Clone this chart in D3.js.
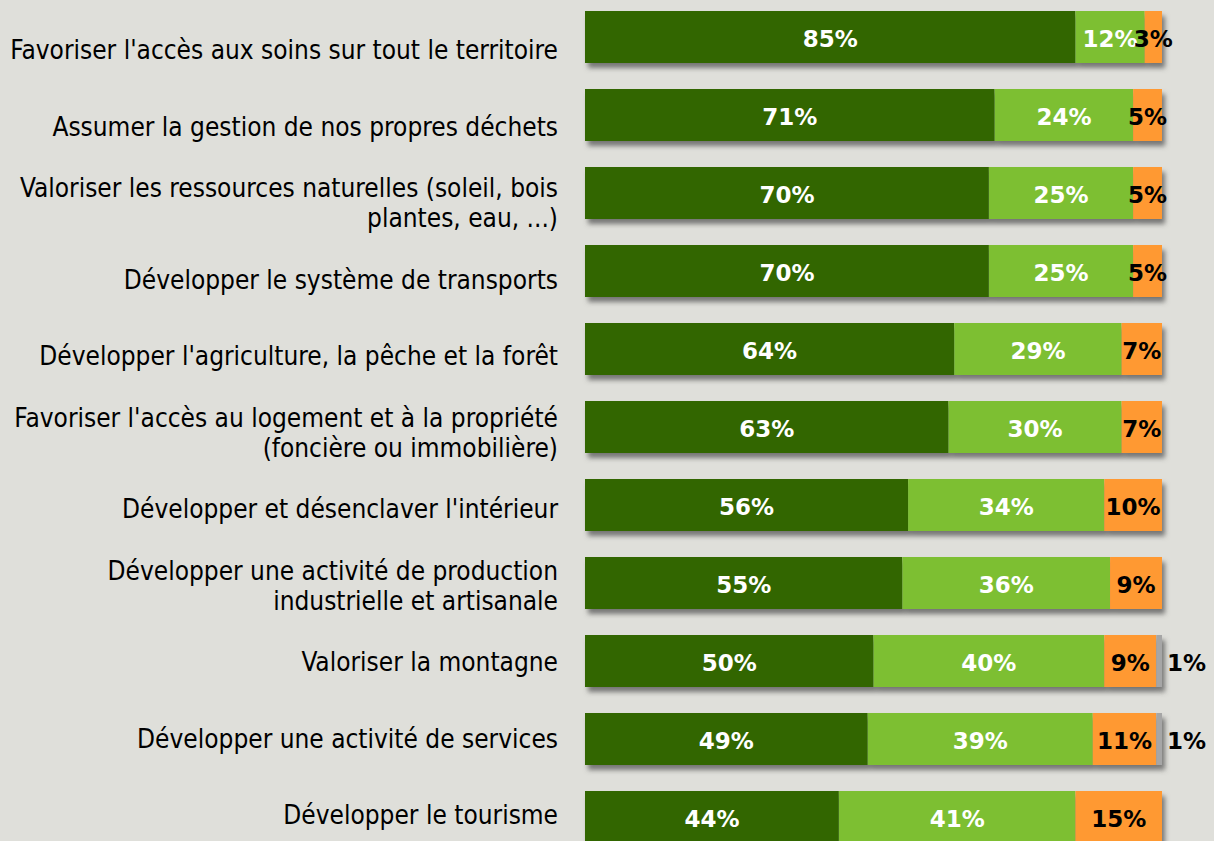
<!DOCTYPE html>
<html>
<head>
<meta charset="utf-8">
<script src="https://cdn.jsdelivr.net/npm/d3@7"></script>
<style>
  html, body { margin: 0; padding: 0; background: #dfdfda; }
  svg { display: block; }
</style>
</head>
<body>
<svg id="chart" width="1214" height="841"></svg>
<script>
// categories (top to bottom), each label split into its lines
const categories = [
    ["Favoriser l'accès aux soins sur tout le territoire"],
    ["Assumer la gestion de nos propres déchets"],
    ["Valoriser les ressources naturelles (soleil, bois", "plantes, eau, ...)"],
    ["Développer le système de transports"],
    ["Développer l'agriculture, la pêche et la forêt"],
    ["Favoriser l'accès au logement et à la propriété", "(foncière ou immobilière)"],
    ["Développer et désenclaver l'intérieur"],
    ["Développer une activité de production", "industrielle et artisanale"],
    ["Valoriser la montagne"],
    ["Développer une activité de services"],
    ["Développer le tourisme"]
];

// series values, in percent
const tresImportant = [85, 71, 70, 70, 64, 63, 56, 55, 50, 49, 44];
const important     = [12, 24, 25, 25, 29, 30, 34, 36, 40, 39, 41];
const peuImportant  = [3, 5, 5, 5, 7, 7, 10, 9, 9, 11, 15];
const sansAvis      = [0, 0, 0, 0, 0, 0, 0, 0, 1, 1, 0];

const seriesKeys = ["tres", "imp", "peu", "sans"];
const colors = { tres: "#336600", imp: "#7dbf33", peu: "#ff9933", sans: "#a6a6a6" };
const textColors = { tres: "#ffffff", imp: "#ffffff", peu: "#000000", sans: "#000000" };

const rows = categories.map((c, i) => ({
    id: i,
    lines: c,
    tres: tresImportant[i],
    imp: important[i],
    peu: peuImportant[i],
    sans: sansAvis[i]
}));

const svg = d3.select("#chart");

const x = d3.scaleLinear().domain([0, 100]).range([585, 1162]);
const y = d3.scaleBand()
    .domain(rows.map(d => d.id))
    .range([-2, -2 + 78 * rows.length])
    .paddingInner(1 / 3)
    .paddingOuter(1 / 6);
// the category labels sit on their own, slightly tighter grid
const yLabel = d3.scalePoint()
    .domain(rows.map(d => d.id))
    .range([50, 815]);

const defs = svg.append("defs");
const shadow = defs.append("filter")
    .attr("id", "shadow")
    .attr("x", "-5%").attr("y", "-30%")
    .attr("width", "115%").attr("height", "170%");
shadow.append("feDropShadow")
    .attr("dx", 3).attr("dy", 5)
    .attr("stdDeviation", 2.5)
    .attr("flood-color", "#555555")
    .attr("flood-opacity", 0.75);

const stacked = d3.stack().keys(seriesKeys)(rows);

// bars
const barGroups = svg.append("g")
    .selectAll("g")
    .data(rows)
    .join("g")
    .attr("filter", "url(#shadow)");

barGroups.each(function (row, i) {
    const g = d3.select(this);
    stacked.forEach(layer => {
        const seg = layer[i];
        if (seg[1] - seg[0] <= 0) return;
        g.append("rect")
            .attr("x", x(seg[0]))
            .attr("y", y(row.id))
            .attr("width", x(seg[1]) - x(seg[0]))
            .attr("height", y.bandwidth())
            .attr("fill", colors[layer.key]);
    });
});

// value labels
const labelLayer = svg.append("g")
    .attr("font-family", "'DejaVu Sans', sans-serif")
    .attr("font-weight", "bold")
    .attr("font-size", 23);

stacked.forEach(layer => {
    layer.forEach((seg, i) => {
        const v = seg[1] - seg[0];
        if (v <= 0) return;
        const row = rows[i];
        const outside = layer.key === "sans";
        labelLayer.append("text")
            .attr("x", outside ? x(seg[1]) + 5 : (x(seg[0]) + x(seg[1])) / 2)
            .attr("y", y(row.id) + y.bandwidth() / 2 + 2)
            .attr("dy", "0.36em")
            .attr("text-anchor", outside ? "start" : "middle")
            .attr("fill", textColors[layer.key])
            .text(v + "%");
    });
});

// category labels
const catLayer = svg.append("g")
    .attr("font-family", "'DejaVu Sans Condensed', 'DejaVu Sans', sans-serif")
    .attr("font-size", 26)
    .attr("fill", "#000000");

rows.forEach(row => {
    const lineH = 30;
    const cy = yLabel(row.id);
    const t = catLayer.append("text")
        .attr("text-anchor", "end")
        .attr("x", 558);
    row.lines.forEach((ln, k) => {
        t.append("tspan")
            .attr("x", 558)
            .attr("y", cy + (k - (row.lines.length - 1) / 2) * lineH)
            .attr("dy", "0.36em")
            .text(ln);
    });
});
</script>
</body>
</html>
